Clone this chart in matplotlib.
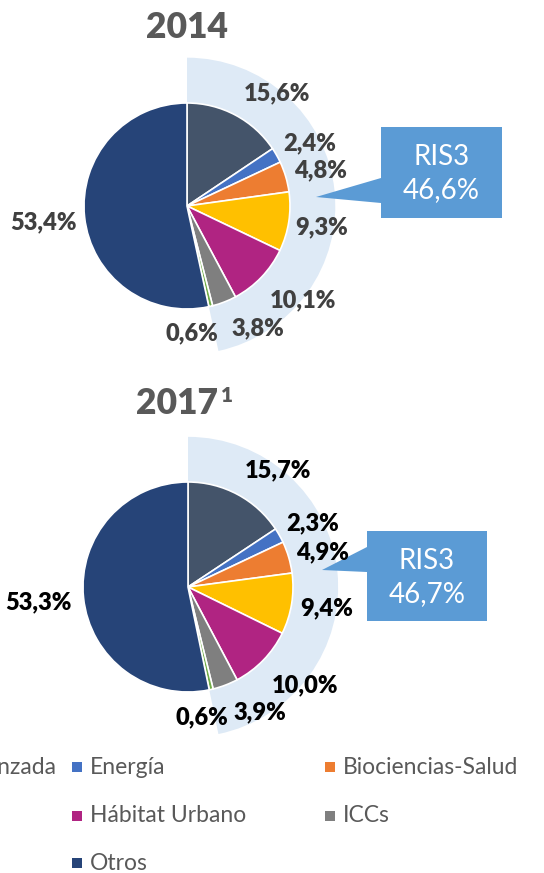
import matplotlib.pyplot as plt
from matplotlib.patches import Wedge, Polygon, Rectangle

plt.rcParams['font.family'] = ['Lato', 'DejaVu Sans']

# data
categories = ["Fabricación Avanzada", "Energía", "Biociencias-Salud", "Alimentación",
              "Hábitat Urbano", "ICCs", "Ecosistemas", "Otros"]
colors = ["#44546A", "#4472C4", "#ED7D31", "#FFC000",
          "#B02482", "#7F7F7F", "#70AD47", "#264478"]
values_2014 = [15.6, 2.4, 4.8, 9.3, 10.1, 3.8, 0.6, 53.4]
values_2017 = [15.7, 2.3, 4.9, 9.4, 10.0, 3.9, 0.6, 53.3]
ris3_share = [46.6, 46.7]
n_ris3 = 7  # first 7 categories belong to RIS3

W, H = 544, 873
fig = plt.figure(figsize=(W / 100, H / 100), dpi=100)


def fmt(v):
    return f"{v:.1f}".replace(".", ",") + "%"


def pie_axes(cx, cy, r, lim=1.6):
    # axes placed so that radius 1 == r pixels, centred at (cx, cy) (top origin)
    ax = fig.add_axes([(cx - lim * r) / W, (H - cy - lim * r) / H,
                       2 * lim * r / W, 2 * lim * r / H])
    ax.axis("off")
    return ax


def draw_pie(ax, values, band_r):
    total = sum(values)
    ris3 = sum(values[:n_ris3]) / total * 360
    ax.add_patch(Wedge((0, 0), band_r, 90 - ris3, 90, facecolor="#DEEAF6",
                       edgecolor="none", zorder=0))
    ax.pie(values, colors=colors, startangle=90, counterclock=False, radius=1,
           wedgeprops=dict(edgecolor="white", linewidth=1.2))
    ax.set_xlim(-1.6, 1.6)
    ax.set_ylim(-1.6, 1.6)


ax1 = pie_axes(187, 206, 103)
draw_pie(ax1, values_2014, 1.44)
ax2 = pie_axes(188, 587, 105)
draw_pie(ax2, values_2017, 1.43)

# overlay in pixel coordinates for texts, callouts and legend
ov = fig.add_axes([0, 0, 1, 1])
ov.set_xlim(0, W)
ov.set_ylim(H, 0)
ov.axis("off")

lab_pos_2014 = [(277, 93), (310, 143), (320, 170), (322, 227),
                (303, 300), (258, 328), (192, 333), (43, 222)]
lab_pos_2017 = [(278, 470), (313, 523), (322, 552), (327, 608),
                (305, 685), (260, 712), (202, 717), (38, 602)]
for vals, pos, col in [(values_2014, lab_pos_2014, "#404040"),
                       (values_2017, lab_pos_2017, "black")]:
    for v, (x, y) in zip(vals, pos):
        ov.text(x, y, fmt(v), ha="center", va="center", fontsize=17,
                fontweight="heavy", color=col)

# titles
ov.text(187, 27, "2014", ha="center", va="center", fontsize=25.5,
        fontweight="heavy", color="#595959")
ov.text(177, 403, "2017", ha="center", va="center", fontsize=25.5,
        fontweight="heavy", color="#595959")
ov.text(227, 395, "1", ha="center", va="center", fontsize=15,
        fontweight="heavy", color="#595959")

# RIS3 callouts
for (x0, y0, x1, y1, b0, b1, tx, ty), share in zip(
        [(381, 127, 502, 218, 178, 203, 316, 197),
         (367, 531, 487, 621, 547, 572, 322, 570)], ris3_share):
    ov.add_patch(Polygon([(x0, y0), (x1, y0), (x1, y1), (x0, y1), (x0, b1),
                          (tx, ty), (x0, b0)], closed=True,
                         facecolor="#5B9BD5", edgecolor="none"))
    xm = (x0 + x1) / 2
    ov.text(xm, y0 + 30, "RIS3", ha="center", va="center", fontsize=20,
            color="white")
    ov.text(xm, y0 + 63, fmt(share), ha="center", va="center", fontsize=20,
            color="white")

# legend (row-major, 3 columns, first column runs off the left edge as in the source)
col_x = [-181, 72, 325]
row_y = [767, 816, 863]
for i, (name, c) in enumerate(zip(categories, colors)):
    x, y = col_x[i % 3], row_y[i // 3]
    ov.add_patch(Rectangle((x, y - 5), 10, 10, facecolor=c, edgecolor="none",
                           clip_on=False))
    ov.text(x + 18, y, name, ha="left", va="center", fontsize=16.5,
            color="#595959")

fig.savefig("out.png", dpi=100)
